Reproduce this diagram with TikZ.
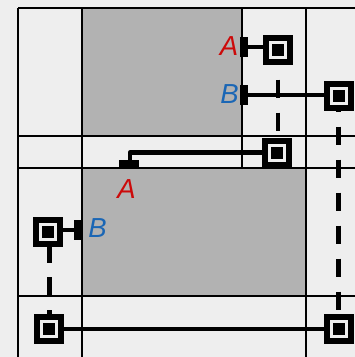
\documentclass[tikz,border=0pt]{standalone}
\usepackage{fontspec}
\setmainfont{Liberation Sans}
\usepackage{tikz}
\definecolor{paper}{HTML}{EEEEEE}
\definecolor{region}{HTML}{B2B2B2}
\definecolor{labelred}{HTML}{CC0A0A}
\definecolor{labelblue}{HTML}{1A66B5}
\tikzstyle{cell} = [rectangle, fill=region, draw=none]
\tikzstyle{grid} = [line width=2.2pt, draw=black]
\tikzstyle{switch} = [rectangle, minimum size=15pt, inner sep=0pt, outer sep=7.5pt, fill=black, draw=black, line width=6pt, double=paper, double distance=3pt]
\tikzstyle{portv} = [rectangle, minimum width=8pt, minimum height=20pt, inner sep=0pt, outer sep=0pt, fill=black]
\tikzstyle{porth} = [rectangle, minimum width=20pt, minimum height=8pt, inner sep=0pt, outer sep=0pt, fill=black]
\tikzstyle{wire} = [line width=4.6pt, line join=round]
\tikzstyle{dashwire} = [line width=4.6pt, dash pattern=on 18.5pt off 14.5pt]
\tikzstyle{tag} = [inner sep=0pt, font=\fontsize{27.5}{27.5}\selectfont\itshape]
\begin{document}
\begin{tikzpicture}[x=1pt,y=-1pt]
\fill [paper] (0,0) rectangle (355,357);
\useasboundingbox (0,0) rectangle (355,357);
\node (cellTop) [cell, minimum width=160pt, minimum height=128pt, inner sep=0pt] at (162,72) {};
\node (cellLow) [cell, minimum width=224pt, minimum height=128pt, inner sep=0pt] at (194,232) {};
\foreach \y in {8,136,168,296}
  \draw [grid] (18,\y) -- (355,\y);
\foreach \x in {18,82,306}
  \draw [grid] (\x,8) -- (\x,357);
\draw [grid] (242,8) -- (242,168);
\node (swA) [switch] at (278,50) {};
\node (swB) [switch] at (339,96) {};
\node (swMid) [switch] at (277,152.5) {};
\node (swLeft) [switch] at (48,232) {};
\node (swBotL) [switch] at (49,329) {};
\node (swBotR) [switch] at (339,329) {};
\node (portA) [portv] at (244,47) {};
\node (portB) [portv] at (244,95) {};
\node (portLowA) [porth] at (129,164) {};
\node (portLowB) [portv] at (78,230) {};
\draw [wire] (portA) -- (portA -| swA.west);
\draw [wire] (portB) -- (portB -| swB.west);
\draw [wire] (swMid.west) -| ([xshift=1pt]portLowA.north);
\draw [wire] (portLowB) -- (portLowB -| swLeft.east);
\draw [wire] (swBotL) -- (swBotR);
\draw [dashwire, dash phase=18.5pt] (swA.south) -- (swA.south |- swMid.north);
\draw [dashwire, dash phase=17.5pt] ([xshift=-0.7pt]swB.south) -- ([xshift=-0.7pt]swBotR.north);
\draw [dashwire, dash phase=3pt] ([xshift=1.5pt]swLeft.south) -- ([xshift=0.5pt]swBotL.north);
\node (tagA) [tag, text=labelred] at (229,46.5) {A};
\node (tagB) [tag, text=labelblue] at (229.5,94) {B};
\node (tagLowA) [tag, text=labelred] at (126.5,189.5) {A};
\node (tagLowB) [tag, text=labelblue] at (97.5,228.5) {B};
\end{tikzpicture}
\end{document}
